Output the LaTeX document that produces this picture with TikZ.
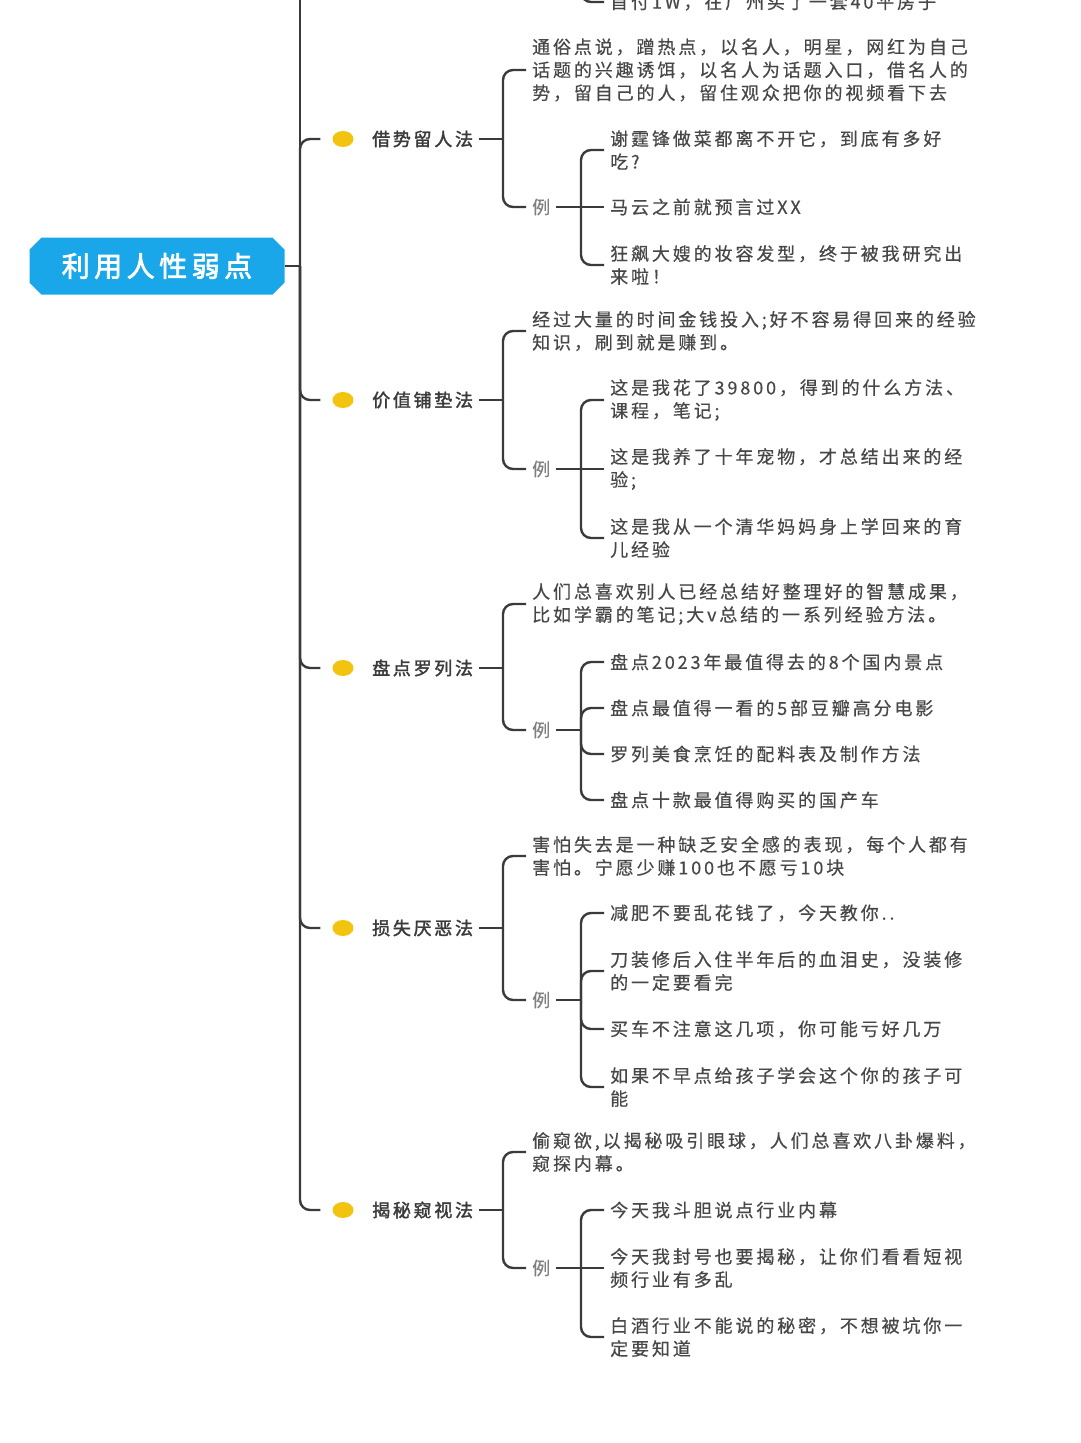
\documentclass[tikz,border=0pt]{standalone}
\usepackage{fontspec}
\usepackage{tikz}
\usetikzlibrary{positioning}
\usetikzlibrary{shapes.geometric,shapes.misc}

\newfontfamily\cjk[LetterSpace=16,FakeBold=0.4]{Noto Sans CJK SC}
\newfontfamily\cjkbold[LetterSpace=15,FakeBold=1.8]{Noto Sans CJK SC}
\newfontfamily\cjkroot[LetterSpace=16,FakeBold=2.5]{Noto Sans CJK SC}

\definecolor{rootblue}{HTML}{19A7EA}
\definecolor{dotyellow}{HTML}{F2C40F}
\definecolor{linegray}{HTML}{3A3A3A}
\definecolor{textgray}{HTML}{474747}

\tikzset{
    link/.style={draw=linegray, line width=2.4pt, rounded corners=10pt},
    root/.style={chamfered rectangle, chamfered rectangle xsep=6pt, chamfered rectangle ysep=6pt,
        fill=rootblue, text=white, minimum width=255pt, minimum height=57pt, inner sep=0pt,
        font=\cjkroot\fontsize{28}{32}\selectfont},
    dot/.style={ellipse, fill=dotyellow, minimum width=21pt, minimum height=16pt, inner sep=0pt},
    topic/.style={anchor=west, inner xsep=6pt, inner ysep=0pt, text=linegray,
        font=\cjkbold\fontsize{18}{23}\selectfont},
    desc/.style={anchor=west, align=left, inner xsep=6pt, inner ysep=0pt, text=textgray,
        font=\cjk\fontsize{18}{23}\selectfont},
    eg/.style={desc},
    tag/.style={desc, text=gray}
}

\begin{document}
\begin{tikzpicture}[x=1pt, y=-1pt]
    \useasboundingbox[fill=white] (0,0) rectangle (1080,1443);

    \node[root] (root) at (157,266) {利用人性弱点};
    \coordinate (trunk) at (300,266);
    \coordinate (trunktop) at (300,-20);
    \draw[link] (root.east) -- (trunk);
    \draw[link] (trunk) -- (trunktop);

    \coordinate (j0) at (581,-40);
    \node[eg] (e0) at (604,2) {首付1W，在广州买了一套40平房子};
    \draw[link] (j0) |- (e0.west);

    \node[dot] (d1) at (343,139) {};
    \node[topic] (t1) at (366,139) {借势留人法};
    \coordinate (j1) at (503,139);
    \node[desc] (s1) at (526,70) {通俗点说，蹭热点，以名人，明星，网红为自己\\话题的兴趣诱饵，以名人为话题入口，借名人的\\势，留自己的人，留住观众把你的视频看下去};
    \node[tag] (l1) at (526,207) {例};
    \coordinate (k1) at (581,207);
    \node[eg] (e11) at (604,150) {谢霆锋做菜都离不开它，到底有多好\\吃?};
    \node[eg] (e12) at (604,207) {马云之前就预言过XX};
    \node[eg] (e13) at (604,265) {狂飙大嫂的妆容发型，终于被我研究出\\来啦！};
    \draw[link] (trunk) |- ([xshift=-12pt]d1.west);
    \draw[link] (t1.east) -- (j1);
    \draw[link] (j1) |- (s1.west);
    \draw[link] (j1) |- (l1.west);
    \draw[link] (l1.east) -- (k1);
    \draw[link] (k1) |- (e11.west);
    \draw[link] (k1) -- (e12.west);
    \draw[link] (k1) |- (e13.west);

    \node[dot] (d2) at (343,400) {};
    \node[topic] (t2) at (366,400) {价值铺垫法};
    \coordinate (j2) at (503,400);
    \node[desc] (s2) at (526,331) {经过大量的时间金钱投入;好不容易得回来的经验\\知识，刷到就是赚到。};
    \node[tag] (l2) at (526,469) {例};
    \coordinate (k2) at (581,469);
    \node[eg] (e21) at (604,400) {这是我花了39800，得到的什么方法、\\课程，笔记;};
    \node[eg] (e22) at (604,469) {这是我养了十年宠物，才总结出来的经\\验;};
    \node[eg] (e23) at (604,538) {这是我从一个清华妈妈身上学回来的育\\儿经验};
    \draw[link] (trunk) |- ([xshift=-12pt]d2.west);
    \draw[link] (t2.east) -- (j2);
    \draw[link] (j2) |- (s2.west);
    \draw[link] (j2) |- (l2.west);
    \draw[link] (l2.east) -- (k2);
    \draw[link] (k2) |- (e21.west);
    \draw[link] (k2) -- (e22.west);
    \draw[link] (k2) |- (e23.west);

    \node[dot] (d3) at (343,668) {};
    \node[topic] (t3) at (366,668) {盘点罗列法};
    \coordinate (j3) at (503,668);
    \node[desc] (s3) at (526,604) {人们总喜欢别人已经总结好整理好的智慧成果，\\比如学霸的笔记;大v总结的一系列经验方法。};
    \node[tag] (l3) at (526,730) {例};
    \coordinate (k3) at (581,730);
    \node[eg] (e31) at (604,662) {盘点2023年最值得去的8个国内景点};
    \node[eg] (e32) at (604,708) {盘点最值得一看的5部豆瓣高分电影};
    \node[eg] (e33) at (604,754) {罗列美食烹饪的配料表及制作方法};
    \node[eg] (e34) at (604,800) {盘点十款最值得购买的国产车};
    \draw[link] (trunk) |- ([xshift=-12pt]d3.west);
    \draw[link] (t3.east) -- (j3);
    \draw[link] (j3) |- (s3.west);
    \draw[link] (j3) |- (l3.west);
    \draw[link] (l3.east) -- (k3);
    \draw[link] (k3) |- (e31.west);
    \draw[link] (k3) |- (e32.west);
    \draw[link] (k3) |- (e33.west);
    \draw[link] (k3) |- (e34.west);

    \node[dot] (d4) at (343,928) {};
    \node[topic] (t4) at (366,928) {损失厌恶法};
    \coordinate (j4) at (503,928);
    \node[desc] (s4) at (526,856) {害怕失去是一种缺乏安全感的表现，每个人都有\\害怕。宁愿少赚100也不愿亏10块};
    \node[tag] (l4) at (526,1000) {例};
    \coordinate (k4) at (581,1000);
    \node[eg] (e41) at (604,913) {减肥不要乱花钱了，今天教你..};
    \node[eg] (e42) at (604,971) {刀装修后入住半年后的血泪史，没装修\\的一定要看完};
    \node[eg] (e43) at (604,1029) {买车不注意这几项，你可能亏好几万};
    \node[eg] (e44) at (604,1087) {如果不早点给孩子学会这个你的孩子可\\能};
    \draw[link] (trunk) |- ([xshift=-12pt]d4.west);
    \draw[link] (t4.east) -- (j4);
    \draw[link] (j4) |- (s4.west);
    \draw[link] (j4) |- (l4.west);
    \draw[link] (l4.east) -- (k4);
    \draw[link] (k4) |- (e41.west);
    \draw[link] (k4) |- (e42.west);
    \draw[link] (k4) |- (e43.west);
    \draw[link] (k4) |- (e44.west);

    \node[dot] (d5) at (343,1210) {};
    \node[topic] (t5) at (366,1210) {揭秘窥视法};
    \coordinate (j5) at (503,1210);
    \node[desc] (s5) at (526,1152) {偷窥欲,以揭秘吸引眼球，人们总喜欢八卦爆料，\\窥探内幕。};
    \node[tag] (l5) at (526,1268) {例};
    \coordinate (k5) at (581,1268);
    \node[eg] (e51) at (604,1210) {今天我斗胆说点行业内幕};
    \node[eg] (e52) at (604,1268) {今天我封号也要揭秘，让你们看看短视\\频行业有多乱};
    \node[eg] (e53) at (604,1337) {白酒行业不能说的秘密，不想被坑你一\\定要知道};
    \draw[link] (trunk) |- ([xshift=-12pt]d5.west);
    \draw[link] (t5.east) -- (j5);
    \draw[link] (j5) |- (s5.west);
    \draw[link] (j5) |- (l5.west);
    \draw[link] (l5.east) -- (k5);
    \draw[link] (k5) |- (e51.west);
    \draw[link] (k5) -- (e52.west);
    \draw[link] (k5) |- (e53.west);
\end{tikzpicture}
\end{document}
